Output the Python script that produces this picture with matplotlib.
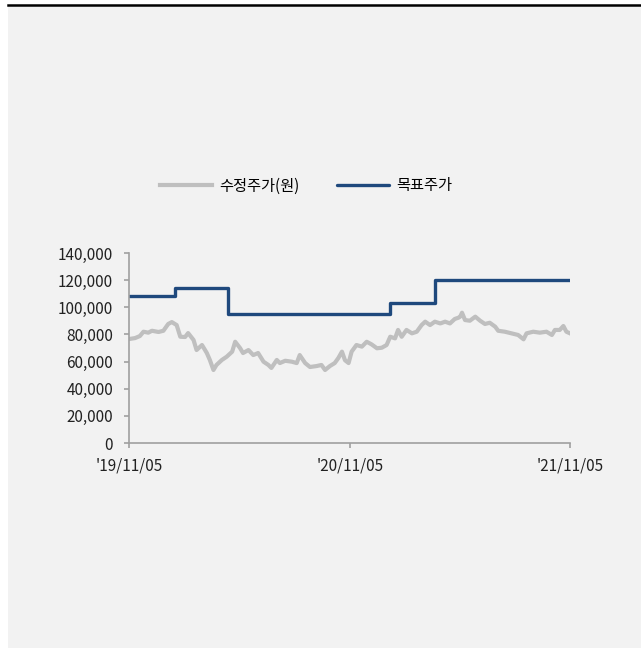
import matplotlib.pyplot as plt
import matplotlib.dates as mdates
import matplotlib.ticker as mticker
import pandas as pd

plt.rcParams['font.family'] = ['Noto Sans CJK KR', 'DejaVu Sans']

start = pd.Timestamp("2019-11-05")
end = pd.Timestamp("2021-11-05")

# adjusted close (days after 2019-11-05, won)
price_days = [0, 10, 18, 24, 32, 38, 49, 57, 65, 71, 79, 85, 93, 98, 107, 112,
              121, 129, 134, 140, 145, 154, 162, 171, 176, 184, 189, 198, 206,
              214, 223, 231, 236, 245, 250, 259, 270, 278, 283, 292, 300, 311,
              319, 325, 333, 341, 347, 353, 358, 364, 369, 377, 386, 394, 402,
              411, 419, 427, 433, 441, 446, 452, 460, 469, 477, 485, 491, 499,
              507, 516, 524, 532, 540, 546, 549, 552, 557, 565, 574, 582, 590,
              598, 607, 612, 623, 634, 645, 654, 659, 670, 681, 692, 701, 706,
              714, 720, 725, 731]
price = [76600, 77300, 78800, 82000, 81300, 82700, 81800, 82700, 87700, 89100,
         86900, 78300, 78100, 81000, 75900, 68500, 72200, 66300, 61200, 53800,
         57500, 61200, 63600, 67300, 74600, 70000, 66300, 68500, 64800, 66300,
         59900, 57500, 55300, 61200, 58900, 60600, 59900, 58900, 64800, 58900,
         56000, 56700, 57500, 53800, 56700, 58900, 62600, 67300, 61000, 58900,
         67300, 72200, 71000, 74600, 72700, 69800, 70200, 72200, 78300, 77100,
         83300, 78300, 83300, 80800, 82000, 86900, 89400, 86900, 89400, 88100,
         89400, 88100, 91400, 92300, 93100, 96000, 90600, 90100, 93100, 90100,
         87700, 88600, 85700, 82700, 82000, 80800, 79600, 76400, 80800, 82000,
         81300, 82000, 79600, 83300, 83300, 86200, 82000, 80800]

# target price changes
target_dates = ["2019-11-05", "2020-01-20", "2020-04-17", "2021-01-11",
                "2021-03-27", "2021-11-05"]
target = [108000, 114000, 95000, 103000, 120000, 120000]

price_x = [start + pd.Timedelta(days=d) for d in price_days]
target_x = pd.to_datetime(target_dates)

fig = plt.figure(figsize=(6.41, 6.48), dpi=100)
fig.patches.append(plt.Rectangle((8 / 641, 0), 1, 1 - 6 / 648,
                                 transform=fig.transFigure,
                                 facecolor='#f2f2f2', edgecolor='none', zorder=-5))
fig.lines.append(plt.Line2D([8 / 641, 1], [1 - 5 / 648, 1 - 5 / 648],
                            transform=fig.transFigure, color='black', lw=1.8))

ax = fig.add_axes([129 / 641, 1 - 443 / 648, 441 / 641, 190 / 648])
ax.set_facecolor('none')

ax.plot(price_x, price, color='#bfbfbf', lw=3.0, label='수정주가(원)',
        solid_joinstyle='round')
ax.plot(target_x, target, color='#1f497d', lw=2.4, drawstyle='steps-post',
        label='목표주가', solid_capstyle='round')

ax.set_xlim(start, end)
ax.set_ylim(0, 140000)
ax.set_xticks([start, pd.Timestamp("2020-11-05"), end])
ax.xaxis.set_major_formatter(mdates.DateFormatter("'%y/%m/%d"))
ax.yaxis.set_major_locator(mticker.MultipleLocator(20000))
ax.yaxis.set_major_formatter(mticker.FuncFormatter(lambda v, p: f"{v:,.0f}"))

for s in ['top', 'right']:
    ax.spines[s].set_visible(False)
for s in ['left', 'bottom']:
    ax.spines[s].set_color('#a0a0a0')
    ax.spines[s].set_linewidth(1.2)
ax.tick_params(axis='both', colors='#a0a0a0', labelcolor='#222222',
               labelsize=11, length=3.5, width=1.2)
ax.tick_params(axis='x', pad=7)
ax.tick_params(axis='y', pad=8)

fig.legend(loc='center', bbox_to_anchor=(306 / 641, 1 - 186 / 648), ncol=2,
           frameon=False, fontsize=11, handlelength=3.4, handletextpad=0.45,
           columnspacing=2.5)

fig.savefig('out.png', dpi=100)
